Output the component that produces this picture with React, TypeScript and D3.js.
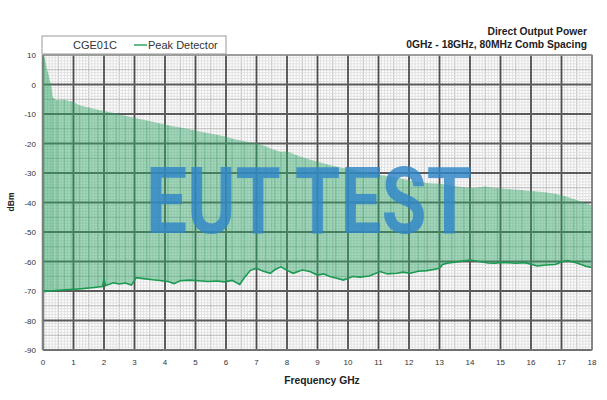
import React, { useEffect, useRef } from "react";
import * as d3 from "d3";

const upperFreq = [0, 0.05, 0.15, 0.25, 0.33, 0.45, 0.7, 0.95, 1.2, 1.5, 1.8, 2.1, 2.4, 2.7, 3.0, 3.4, 3.8, 4.1, 4.5, 4.9, 5.3, 5.7, 6.0, 6.2, 6.6, 7.0, 7.3, 7.6, 7.8, 8.0, 8.3, 8.6, 9.0, 9.3, 9.6, 10.0, 10.5, 11.0, 11.4, 11.8, 12.3, 12.6, 13.0, 13.4, 13.8, 14.1, 14.5, 14.9, 15.3, 15.7, 16.1, 16.5, 16.8, 17.1, 17.4, 17.7, 18.0];
const upperDbm = [10, 9, 4.5, 0.5, -4.5, -5.3, -5.2, -5.8, -7, -7.8, -8.6, -9.2, -9.8, -10.6, -11.3, -12.2, -13.1, -13.8, -14.6, -15.4, -16.3, -17, -17.7, -18.3, -19.2, -19.9, -21, -22.2, -22.8, -22.6, -23.9, -25, -26.2, -27, -27.8, -28.6, -29.6, -30.6, -31.2, -32, -33, -33.4, -33.6, -34.3, -34.8, -35.1, -34.6, -35.1, -35.5, -35.8, -36.2, -36.6, -37, -37.8, -38.8, -39.8, -41];

const lowerFreq = [0, 0.3, 0.6, 1.0, 1.3, 1.6, 1.95, 2.0, 2.05, 2.3, 2.5, 2.7, 2.9, 3.05, 3.3, 3.6, 3.9, 4.1, 4.3, 4.5, 4.8, 5.1, 5.4, 5.7, 5.95, 6.2, 6.45, 6.6, 6.8, 7.0, 7.2, 7.45, 7.6, 7.8, 8.0, 8.2, 8.5, 8.75, 9.0, 9.2, 9.4, 9.6, 9.85, 10.15, 10.4, 10.7, 11.05, 11.3, 11.6, 11.8, 12.05, 12.3, 12.6, 12.85, 13.0, 13.1, 13.25, 13.5, 13.8, 14.0, 14.3, 14.6, 14.8, 15.1, 15.5, 15.8, 16.0, 16.2, 16.5, 16.8, 17.0, 17.2, 17.5, 17.8, 18.0];
const lowerDbm = [-70.2, -69.9, -69.7, -69.4, -69.2, -68.9, -68.5, -65.8, -68.2, -67.2, -67.6, -67.3, -68, -65.5, -65.8, -66.2, -66.5, -66.8, -67.5, -66.5, -66.3, -66.5, -66.8, -66.6, -66.9, -66.4, -67.8, -65.5, -63, -62.3, -63.2, -64, -62.8, -61.8, -63, -64, -62.9, -63.4, -64.6, -64.2, -65.1, -65.6, -66.3, -65.1, -65.3, -64.9, -63.4, -64.2, -64, -63.6, -64, -63.3, -63.1, -62.6, -62.3, -61, -60.6, -60.2, -59.8, -59.5, -60, -60.5, -60.6, -60.3, -60.6, -60.4, -60.9, -61.5, -61.2, -61, -60.2, -59.7, -60.5, -61.6, -62];

const xTicks = d3.range(0, 19);
const yTicks = [10, 0, -10, -20, -30, -40, -50, -60, -70, -80, -90];

const titleLines = ["Direct Output Power", "0GHz - 18GHz, 80MHz Comb Spacing"];
const legendName = "CGE01C";
const seriesName = "Peak Detector";
const watermark = "EUT TEST";

export default function App() {
  const ref = useRef<SVGSVGElement>(null);

  useEffect(() => {
    const svg = d3.select(ref.current);
    svg.selectAll("*").remove();
    const W = 607, H = 400;
    const left = 43, right = 592, top = 55, bottom = 350;
    const x = d3.scaleLinear().domain([0, 18]).range([left, right]);
    const y = d3.scaleLinear().domain([-90, 10]).range([bottom, top]);
    const font = "Liberation Sans, Arial, sans-serif";

    svg.append("rect").attr("width", W).attr("height", H).attr("fill", "#fff");

    const grid = svg.append("g");
    for (let i = 0; i <= 180; i++) {
      const v = i / 10;
      if (i % 10 === 0) continue;
      grid.append("line").attr("x1", x(v)).attr("x2", x(v)).attr("y1", top).attr("y2", bottom)
        .attr("stroke", i % 5 === 0 ? "#b8b8b8" : "#e0e0e0").attr("stroke-width", 1);
    }
    for (let i = -90; i <= 10; i++) {
      if (i % 10 === 0) continue;
      grid.append("line").attr("x1", left).attr("x2", right).attr("y1", y(i)).attr("y2", y(i))
        .attr("stroke", i % 5 === 0 ? "#b8b8b8" : "#e0e0e0").attr("stroke-width", 1);
    }
    xTicks.forEach(t => {
      grid.append("line").attr("x1", x(t)).attr("x2", x(t)).attr("y1", top).attr("y2", bottom)
        .attr("stroke", t === 0 || t === 18 ? "#777" : "#4d4d4d").attr("stroke-width", t === 0 ? 2.5 : 1.8);
    });
    yTicks.forEach(t => {
      grid.append("line").attr("x1", left).attr("x2", right).attr("y1", y(t)).attr("y2", y(t))
        .attr("stroke", t === 10 ? "#999" : "#5a5a5a").attr("stroke-width", t === 10 ? 1.5 : 1.8);
    });

    const allF = Array.from(new Set([...upperFreq, ...lowerFreq])).sort((a, b) => a - b);
    const interp = (fs: number[], vs: number[]) => (f: number) => {
      const i = d3.bisectLeft(fs, f);
      if (i <= 0) return vs[0];
      if (i >= fs.length) return vs[vs.length - 1];
      const f0 = fs[i - 1], f1 = fs[i];
      return vs[i - 1] + (vs[i] - vs[i - 1]) * (f - f0) / (f1 - f0);
    };
    const upI = interp(upperFreq, upperDbm);
    const loI = interp(lowerFreq, lowerDbm);
    const area = d3.area<number>().x(f => x(f)).y0(f => y(loI(f))).y1(f => y(upI(f)));
    svg.append("path").datum(allF).attr("d", area).attr("fill", "#34a86a").attr("fill-opacity", 0.45);

    upperFreq.forEach(f => {
      svg.append("line").attr("x1", x(f)).attr("x2", x(f)).attr("y1", y(loI(f))).attr("y2", y(upI(f)))
        .attr("stroke", "#2e9a5e").attr("stroke-opacity", 0.25).attr("stroke-width", 1.5);
    });

    const line = d3.line<number>().x((_, i) => x(lowerFreq[i])).y(d => y(d));
    svg.append("path").datum(lowerDbm).attr("d", line).attr("fill", "none")
      .attr("stroke", "#1b9a52").attr("stroke-width", 1.6);

    svg.append("rect").attr("x", left).attr("y", top).attr("width", right - left).attr("height", bottom - top)
      .attr("fill", "none").attr("stroke", "#8a8a8a").attr("stroke-width", 1);

    yTicks.forEach(t => {
      svg.append("text").attr("x", 36).attr("y", y(t) + 3).attr("text-anchor", "end")
        .attr("font-family", font).attr("font-size", 8).attr("fill", "#333").text(String(t));
    });
    xTicks.forEach(t => {
      svg.append("text").attr("x", x(t)).attr("y", 365).attr("text-anchor", "middle")
        .attr("font-family", font).attr("font-size", 8).attr("fill", "#333").text(String(t));
    });

    svg.append("text").attr("transform", `translate(14,202) rotate(-90)`).attr("text-anchor", "middle")
      .attr("font-family", font).attr("font-size", 8.5).attr("font-weight", "bold").attr("fill", "#222").text("dBm");
    svg.append("text").attr("x", 322).attr("y", 384).attr("text-anchor", "middle")
      .attr("font-family", font).attr("font-size", 10.3).attr("font-weight", "bold").attr("fill", "#222").text("Frequency GHz");

    titleLines.forEach((t, i) => {
      svg.append("text").attr("x", 587).attr("y", 35 + i * 13).attr("text-anchor", "end")
        .attr("font-family", font).attr("font-size", 10.3).attr("font-weight", "bold").attr("fill", "#222").text(t);
    });

    svg.append("rect").attr("x", 42).attr("y", 36).attr("width", 184).attr("height", 18)
      .attr("fill", "#fff").attr("stroke", "#999").attr("stroke-width", 1);
    svg.append("text").attr("x", 95).attr("y", 49).attr("text-anchor", "middle")
      .attr("font-family", font).attr("font-size", 11).attr("fill", "#333").text(legendName);
    svg.append("line").attr("x1", 134).attr("x2", 147).attr("y1", 45).attr("y2", 45)
      .attr("stroke", "#2ea565").attr("stroke-width", 1.5);
    svg.append("text").attr("x", 148).attr("y", 49)
      .attr("font-family", font).attr("font-size", 11).attr("fill", "#333").text(seriesName);

    svg.append("text").attr("x", 146).attr("y", 233).attr("textLength", 326).attr("lengthAdjust", "spacingAndGlyphs")
      .attr("font-family", "Roboto, sans-serif").attr("font-size", 92).attr("font-weight", 700)
      .attr("fill", "#2f86c8").attr("fill-opacity", 0.82).text(watermark);
  }, []);

  return <svg ref={ref} width={607} height={400} style={{ position: "absolute", left: 0, top: 0 }} />;
}
